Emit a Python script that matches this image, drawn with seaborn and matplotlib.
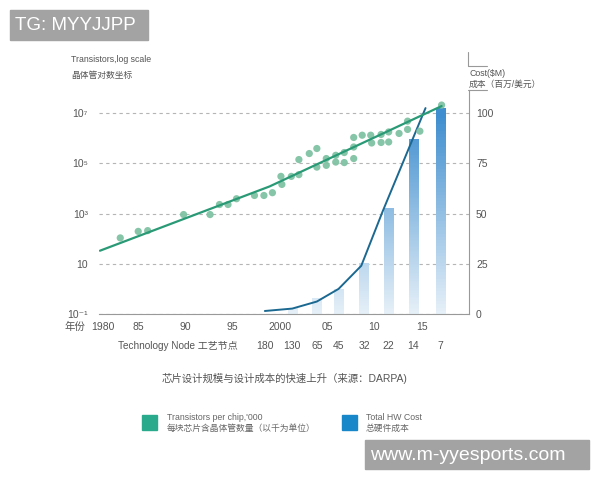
import numpy as np
import pandas as pd
import matplotlib.pyplot as plt
import seaborn as sns
from matplotlib.colors import LinearSegmentedColormap
from matplotlib.lines import Line2D
from matplotlib.patches import Rectangle
from matplotlib.ticker import MultipleLocator, FixedLocator

# transistors per chip (log10 of count)
dot_years = [1983.1, 1985.0, 1986.0, 1989.8, 1992.6, 1993.6, 1994.5, 1995.4, 1997.3, 1998.3,
             1999.2, 2000.2, 2000.1, 2001.2, 2002.0, 2002.0, 2003.1, 2003.9, 2003.9, 2004.9,
             2004.9, 2005.9, 2005.9, 2006.8, 2006.8, 2007.8, 2007.8, 2007.8, 2008.7, 2009.6,
             2009.7, 2010.7, 2010.7, 2011.5, 2011.5, 2012.6, 2013.5, 2013.5, 2014.8, 2017.1]
dot_log = [2.03, 2.29, 2.32, 2.96, 2.96, 3.36, 3.36, 3.59, 3.72, 3.72,
           3.83, 4.16, 4.48, 4.48, 4.55, 5.15, 5.39, 5.59, 4.85, 5.19,
           4.92, 5.32, 5.05, 5.43, 5.03, 6.03, 5.65, 5.19, 6.12, 6.12,
           5.81, 6.15, 5.83, 6.25, 5.85, 6.19, 6.68, 6.35, 6.28, 7.32]

# trend line for transistors
trend_years = [1980.95, 1998.9, 2017.1]
trend_log = [1.52, 4.08, 7.28]

# total HW cost ($M)
cost_years = [1998.4, 2001.3, 2003.9, 2006.2, 2008.6, 2010.9, 2015.4]
cost_line = [1.5, 2.7, 6.2, 12.5, 24, 51.5, 102.5]

bar_years = [2001.3, 2003.9, 2006.2, 2008.9, 2011.5, 2014.1, 2017.0]
bar_cost = [3.2, 8.2, 12.5, 25.5, 52.7, 87, 102.5]

node_years = [1998.4, 2001.3, 2003.9, 2006.2, 2008.9, 2011.5, 2014.1, 2017.0]
node_labels = ["180", "130", "65", "45", "32", "22", "14", "7"]

year_ticks = [1981.3, 1985, 1990, 1995, 2000, 2005, 2010, 2015]
year_labels = ["1980", "85", "90", "95", "2000", "05", "10", "15"]

log_ticks = [-1, 1, 3, 5, 7]
log_labels = ["10⁻¹", "10", "10³", "10⁵", "10⁷"]
cost_ticks = [0, 25, 50, 75, 100]

dots = pd.DataFrame({"year": dot_years, "n": 10 ** np.array(dot_log)})
trend = pd.DataFrame({"year": trend_years, "n": 10 ** np.array(trend_log)})
cost = pd.DataFrame({"year": cost_years, "cost": cost_line})

sns.set_style("white")
plt.rcParams["font.family"] = ["Liberation Sans", "Noto Sans CJK SC", "DejaVu Sans"]

W, H = 600, 480
fig = plt.figure(figsize=(6, 4.8), dpi=100)


def fx(x):
    return x / W


def fy(y):
    return 1 - y / H


ax = fig.add_axes([fx(99), fy(314), (469 - 99) / W, (314 - 90) / H])
ax2 = ax.twinx()
ax.set_zorder(ax2.get_zorder() + 1)
ax.patch.set_visible(False)

# cost bars with vertical gradient
blues = LinearSegmentedColormap.from_list("b", ["#e6f0f8", "#3f8ecf"])
bars = ax2.bar(bar_years, bar_cost, width=1.0, color="none", edgecolor="none")
for b, h in zip(bars, bar_cost):
    grad = np.linspace(0, h / 100, 64).reshape(-1, 1)
    im = ax2.imshow(grad, cmap=blues, vmin=0, vmax=1, origin="lower", aspect="auto",
                    extent=[b.get_x(), b.get_x() + b.get_width(), 0, h], zorder=2)
    im.set_clip_path(b)

sns.lineplot(data=cost, x="year", y="cost", ax=ax2, color="#1b6891", lw=1.4, zorder=3)
ax2.set_ylim(0, 111.5)
ax2.set_yticks(cost_ticks)
ax2.yaxis.grid(True, color="#b5b5b5", linestyle=(0, (3, 3)), lw=0.8)
ax2.set_axisbelow(True)
ax2.tick_params(axis="y", length=0, pad=5, labelsize=7.5, labelcolor="#555")
ax2.set_ylabel("")
for s in ["top", "left", "bottom"]:
    ax2.spines[s].set_visible(False)
ax2.spines["right"].set_color("#999")
ax2.spines["right"].set_linewidth(0.8)

# transistors
sns.scatterplot(data=dots, x="year", y="n", ax=ax, color="#80c2a3", s=27,
                edgecolor="none", alpha=0.95, zorder=4)
sns.lineplot(data=trend, x="year", y="n", ax=ax, color="#2a9a76", lw=1.6, zorder=5)
ax.set_yscale("log")
ax.set_ylim(10 ** -1, 10 ** 7.92)
ax.set_yticks([10.0 ** t for t in log_ticks])
ax.set_yticklabels(log_labels)
ax.yaxis.set_minor_locator(FixedLocator([]))
ax.tick_params(axis="y", length=0, pad=8, labelsize=7.5, labelcolor="#555")
ax.set_xlim(1980.85, 2020.0)
ax.set_xticks(year_ticks)
ax.set_xticklabels(year_labels)
ax.xaxis.set_minor_locator(MultipleLocator(0.85))
ax.tick_params(axis="x", which="both", length=3, width=0.7, color="#999",
               labelsize=7.5, labelcolor="#555", pad=3, direction="out")
ax.set_xlabel("")
ax.set_ylabel("")
for s in ["top", "left", "right"]:
    ax.spines[s].set_visible(False)
ax.spines["bottom"].set_color("#999")
ax.spines["bottom"].set_linewidth(0.8)

# node labels under the years
for yr, lab in zip(node_years, node_labels):
    ax.text(yr, -0.143, lab, transform=ax.get_xaxis_transform(), ha="center",
            va="center", fontsize=7.5, color="#555")
fig.text(fx(178), fy(346), "Technology Node 工艺节点", ha="center", va="center",
         fontsize=7.2, color="#555")
fig.text(fx(75), fy(327), "年份", ha="center", va="center", fontsize=7.5, color="#555")

# axis captions
fig.text(fx(71), fy(60), "Transistors,log scale", ha="left", va="center", fontsize=6.3, color="#555")
fig.text(fx(71), fy(75), "晶体管对数坐标", ha="left", va="center", fontsize=6.3, color="#555")
fig.text(fx(469), fy(73), "Cost($M)", ha="left", va="center", fontsize=6.3, color="#555")
fig.text(fx(469), fy(84), "成本（百万/美元）", ha="left", va="center", fontsize=6.3, color="#555")
for xs, ys in [([468, 468, 487], [52, 66, 66]), ([468, 487], [90, 90])]:
    fig.add_artist(Line2D([fx(v) for v in xs], [fy(v) for v in ys], color="#999", lw=0.8))

# title
fig.text(fx(285), fy(378), "芯片设计规模与设计成本的快速上升（来源：DARPA)", ha="center",
         va="center", fontsize=7.5, color="#555")

# legend
fig.add_artist(Rectangle((fx(142), fy(430)), 15 / W, 15 / H, color="#2aaa8c"))
fig.add_artist(Rectangle((fx(342), fy(430)), 15 / W, 15 / H, color="#1787c9"))
fig.text(fx(167), fy(418), "Transistors per chip,'000", ha="left", va="center", fontsize=6.3, color="#666")
fig.text(fx(167), fy(428), "每块芯片含晶体管数量（以千为单位）", ha="left", va="center", fontsize=6.3, color="#666")
fig.text(fx(366), fy(418), "Total HW Cost", ha="left", va="center", fontsize=6.3, color="#666")
fig.text(fx(366), fy(428), "总硬件成本", ha="left", va="center", fontsize=6.3, color="#666")

# watermarks
fig.add_artist(Rectangle((fx(10), fy(40)), 138 / W, 30 / H, color="#a3a3a3"))
fig.text(fx(15), fy(25), "TG: MYYJJPP", ha="left", va="center", fontsize=13.5, color="white")
fig.add_artist(Rectangle((fx(365), fy(469)), 224 / W, 29 / H, color="#a3a3a3"))
fig.text(fx(370), fy(455), "www.m-yyesports.com", ha="left", va="center", fontsize=14, color="white")

fig.savefig("out.png", dpi=100)
